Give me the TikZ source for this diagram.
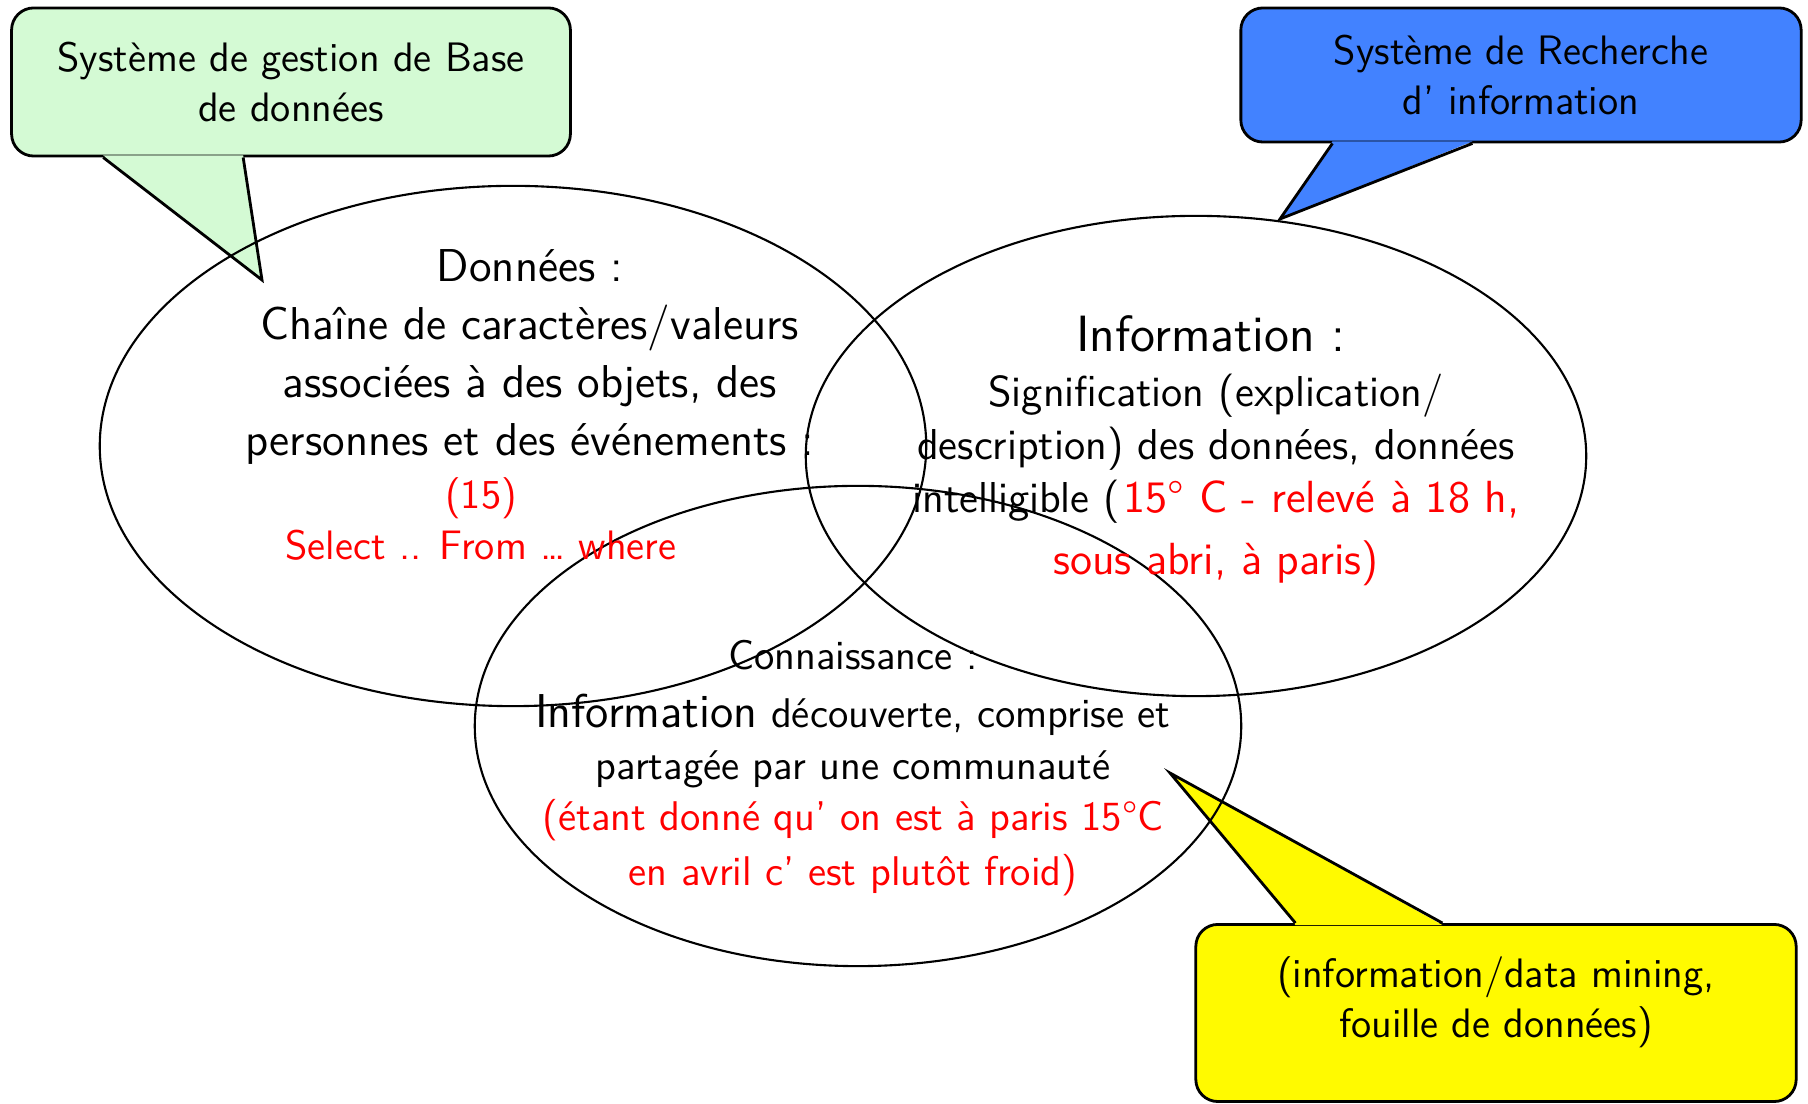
\documentclass[tikz,border=0pt]{standalone}
\usetikzlibrary{shapes.geometric,calc}
\definecolor{gestionfill}{RGB}{212,250,212}
\definecolor{recherchefill}{RGB}{66,130,255}
\definecolor{miningfill}{RGB}{255,250,0}
\begin{document}
\begin{tikzpicture}[x=0.01cm,y=-0.01cm,
  every node/.style={font=\sffamily},
  nuage/.style={draw,ellipse,line width=0.6pt,inner sep=0pt},
  bulle/.style={draw,line width=0.8pt,rounded corners=2.2mm,align=center,inner sep=0pt,
    font=\sffamily\fontsize{11.7}{14.2}\selectfont},
  pointe/.style={line width=0.8pt}]
\useasboundingbox (0,0) rectangle (1808,1104);

% bulles
\node[bulle,fill=gestionfill,minimum width=5.585cm,minimum height=1.48cm] (sgbd) at (291,82)
  {Système de gestion de Base\\de données};
\coordinate (sgbdTip) at (262,280);
\fill[gestionfill] ($(sgbd.south west)+(93,-2)$) -- (sgbdTip) -- ($(sgbd.south west)+(233,-2)$) -- cycle;
\draw[pointe] ($(sgbd.south west)+(93,0)$) -- (sgbdTip) -- ($(sgbd.south west)+(233,0)$);

\node[bulle,fill=recherchefill,minimum width=5.6cm,minimum height=1.34cm] (sri) at (1521,75)
  {Système de Recherche\\d’ information};
\coordinate (sriTip) at (1280,219);
\fill[recherchefill] ($(sri.south west)+(93,-2)$) -- (sriTip) -- ($(sri.south west)+(233,-2)$) -- cycle;
\draw[pointe] ($(sri.south west)+(93,0)$) -- (sriTip) -- ($(sri.south west)+(233,0)$);

\node[bulle,fill=miningfill,minimum width=6cm,minimum height=1.77cm] (mining) at (1496,1013)
  {(information/data mining,\\fouille de données)\\[-5pt]};
\coordinate (miningTip) at (1170,773);
\fill[miningfill] ($(mining.north west)+(101,2)$) -- (miningTip) -- ($(mining.north west)+(248,2)$) -- cycle;
\draw[pointe] ($(mining.north west)+(101,0)$) -- (miningTip) -- ($(mining.north west)+(248,0)$);

% ensembles
\node[nuage,minimum width=8.26cm,minimum height=5.2cm] (donnees) at (513,446) {};
\node[nuage,minimum width=7.8cm,minimum height=4.8cm] (info) at (1196,456) {};
\node[nuage,minimum width=7.66cm,minimum height=4.8cm] (connaissance) at (858,726) {};

% textes
\node[align=center,font=\sffamily\fontsize{13.1}{16.4}\selectfont] (donneesTxt) at (530,357)
  {Données :\\Chaîne de caractères/valeurs\\associées à des objets, des\\personnes et des événements :};
\node[align=center,text=red,font=\sffamily\fontsize{11.7}{14.5}\selectfont] (donneesEx) at (481,519)
  {(15)\\Select .. From … where};

\node[font=\sffamily\fontsize{14.5}{17}\selectfont] (infoTitre) at (1211,334) {Information :};
\node[align=center,font=\sffamily\fontsize{12.3}{15.1}\selectfont] (infoTxt) at (1216,480)
  {Signification (explication/\\description) des données, données\\intelligible (\hspace{1pt}{\color{red}\fontsize{12.8}{15.1}\selectfont 15° C - relevé à 18 h,}\\[2.5pt]
   {\color{red}\fontsize{12.8}{15.1}\selectfont sous abri, à paris)}};

\node[align=center,font=\sffamily\fontsize{11.8}{14.6}\selectfont] (connTxt) at (853,768)
  {Connaissance :\\[2pt]{\fontsize{13.5}{14.6}\selectfont Information} découverte, comprise et\\
   partagée par une communauté\\
   {\color{red}(étant donné qu’ on est à paris 15°C}\\[1pt]
   {\color{red}en avril c’ est plutôt froid)}};
\end{tikzpicture}
\end{document}
